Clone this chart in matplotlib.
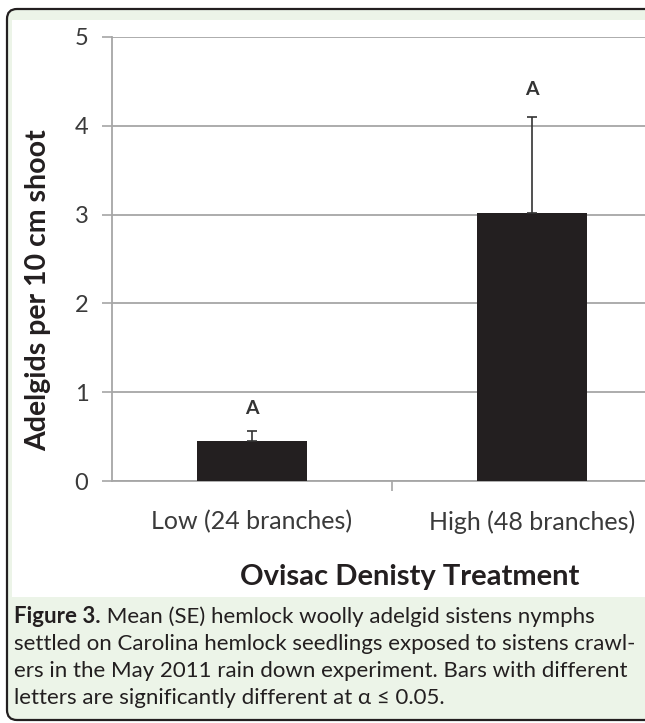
"""Bar chart of adelgid nymph settlement by ovisac density (Figure 3)."""

import matplotlib
matplotlib.use("Agg")
import matplotlib.pyplot as plt
from matplotlib.patches import FancyBboxPatch, Rectangle

categories = ["Low (24 branches)", "High (48 branches)"]
means = [0.45, 3.02]
se_upper = [0.11, 1.08]
letters = ["A", "A"]
letter_y = [0.82, 4.41]
y_ticks = [0, 1, 2, 3, 4, 5]

caption_bold = "Figure 3."
caption_lines = [
    " Mean (SE) hemlock woolly adelgid sistens nymphs",
    "settled on Carolina hemlock seedlings exposed to sistens crawl-",
    "ers in the May 2011 rain down experiment. Bars with different",
    "letters are significantly different at \u03b1 \u2264 0.05.",
]

W, H = 645, 723
GREEN = "#ecf4e8"
TICK_COLOR = "#3a3a3a"
GRID_COLOR = "#a6a6a6"
FONT = ["Lato", "DejaVu Sans"]


def fx(px):
    return px / W


def fy(py):
    return 1 - py / H


def main():
    plt.rcParams["font.family"] = FONT
    fig = plt.figure(figsize=(W / 100, H / 100), dpi=100)
    fig.patch.set_facecolor("white")

    # outer rounded frame (open on the right, cropped) and white chart panel
    frame = FancyBboxPatch((0.07, 0.03), 7.5, 7.11, boxstyle="round,pad=0,rounding_size=0.1",
                           facecolor=GREEN, edgecolor="#231f20", linewidth=1.6,
                           transform=fig.dpi_scale_trans, zorder=-3)
    fig.add_artist(frame)
    panel = Rectangle((0.12, (H - 597) / 100), 7.5, (597 - 20) / 100, facecolor="white",
                      edgecolor="none", transform=fig.dpi_scale_trans, zorder=-2)
    fig.add_artist(panel)

    left, right = 112, 672
    top, bottom = 37, 481
    ax = fig.add_axes([fx(left), fy(bottom), fx(right - left), (bottom - top) / H])
    ax.set_facecolor("none")

    x = list(range(len(categories)))
    ax.bar(x, means, width=0.39, color="#231f20", zorder=3)
    ax.errorbar(x, means, yerr=[[0] * len(se_upper), se_upper], fmt="none",
                ecolor="#333333", elinewidth=1.2, capsize=3.6, capthick=1.2, zorder=4)
    for xi, yi, lab in zip(x, letter_y, letters):
        ax.text(xi, yi, lab, ha="center", va="center", fontsize=14, fontweight="bold",
                color="#333333")

    ax.set_xlim(-0.5, 1.5)
    ax.set_ylim(0, 5)
    ax.set_yticks(y_ticks)
    ax.set_yticklabels([str(t) for t in y_ticks], fontsize=17, color=TICK_COLOR)
    ax.set_xticks(x)
    ax.set_xticklabels(categories, fontsize=18, color=TICK_COLOR)
    ax.set_xticks([0.5], minor=True)
    ax.tick_params(axis="x", which="major", length=0, pad=21)
    ax.tick_params(axis="x", which="minor", length=7, width=1.2, color=GRID_COLOR, direction="out")
    ax.tick_params(axis="y", length=7, width=1.2, color=GRID_COLOR, direction="out", pad=10)

    ax.grid(axis="y", color=GRID_COLOR, linewidth=1.3, zorder=0)
    ax.set_axisbelow(True)
    for side in ("top", "right"):
        ax.spines[side].set_visible(False)
    for side in ("left", "bottom"):
        ax.spines[side].set_color(GRID_COLOR)
        ax.spines[side].set_linewidth(1.3)
    ax.spines["bottom"].set_clip_on(False)

    fig.text(fx(38), fy(290), "Adelgids per 10 cm shoot", rotation=90, ha="center", va="center",
             fontsize=20.5, fontweight="bold", color="#231f20")
    fig.text(fx(410), fy(577), "Ovisac Denisty Treatment", ha="center", va="center",
             fontsize=21, fontweight="bold", color="#231f20")

    # caption, line by line to keep the original breaks
    baselines = [623, 650, 677, 704]
    renderer = fig.canvas.get_renderer()
    bold = fig.text(fx(14), fy(baselines[0]), caption_bold, ha="left", va="baseline",
                    fontsize=16, fontweight="bold", color="#231f20")
    bb = bold.get_window_extent(renderer)
    fig.text(bb.x1 / W, fy(baselines[0]), caption_lines[0], ha="left", va="baseline",
             fontsize=16, color="#231f20")
    for line, base in zip(caption_lines[1:], baselines[1:]):
        fig.text(fx(14), fy(base), line, ha="left", va="baseline", fontsize=16, color="#231f20")

    fig.savefig("out.png", dpi=100)
    plt.close(fig)


if __name__ == "__main__":
    main()
